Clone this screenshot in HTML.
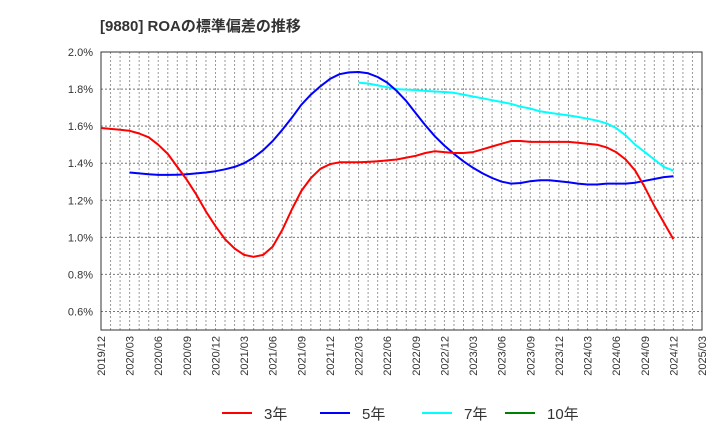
<!DOCTYPE html>
<html><head><meta charset="utf-8"><style>
body{margin:0;background:#fff;font-family:"Liberation Sans","Noto Sans CJK JP",sans-serif}
svg text{font-family:"Liberation Sans","Noto Sans CJK JP",sans-serif}
</style></head><body>
<svg id="chart" width="720" height="440" xmlns="http://www.w3.org/2000/svg">
<text x="100" y="31" font-size="15" font-weight="bold" fill="#333">[9880]  ROAの標準偏差の推移</text>
<g id="grid"></g><g id="axes"></g><g id="series"></g><g id="legend"></g>
</svg>
<script>
const yTicks=[0.6,0.8,1.0,1.2,1.4,1.6,1.8,2.0];
const xLabels=["2019/12","2020/03","2020/06","2020/09","2020/12","2021/03","2021/06","2021/09","2021/12","2022/03","2022/06","2022/09","2022/12","2023/03","2023/06","2023/09","2023/12","2024/03","2024/06","2024/09","2024/12","2025/03"];
const s3Start=0;
const s3=[1.59,1.585,1.58,1.575,1.56,1.54,1.50,1.45,1.38,1.31,1.23,1.14,1.06,0.99,0.94,0.905,0.895,0.905,0.95,1.04,1.15,1.25,1.32,1.37,1.395,1.405,1.405,1.405,1.407,1.41,1.415,1.42,1.43,1.44,1.455,1.465,1.46,1.455,1.455,1.46,1.475,1.49,1.505,1.52,1.52,1.515,1.515,1.515,1.515,1.515,1.51,1.505,1.50,1.485,1.46,1.42,1.36,1.27,1.17,1.08,0.99];
const s5Start=3;
const s5=[1.35,1.345,1.34,1.337,1.337,1.338,1.34,1.345,1.35,1.357,1.367,1.38,1.40,1.43,1.47,1.52,1.58,1.645,1.715,1.77,1.815,1.855,1.88,1.89,1.892,1.885,1.865,1.835,1.79,1.735,1.67,1.605,1.545,1.495,1.45,1.41,1.375,1.345,1.32,1.30,1.29,1.293,1.303,1.308,1.308,1.303,1.297,1.29,1.285,1.285,1.29,1.29,1.29,1.295,1.305,1.315,1.325,1.33];
const s7Start=27;
const s7=[1.835,1.83,1.82,1.81,1.80,1.797,1.795,1.79,1.787,1.784,1.78,1.77,1.76,1.75,1.74,1.73,1.72,1.705,1.695,1.68,1.672,1.665,1.658,1.65,1.64,1.63,1.615,1.59,1.55,1.50,1.46,1.42,1.38,1.36];
const s10Start=0;
const s10=[];
const L=101,R=702,T=52,B=330,yMin=0.5,yMax=2.0,months=63;
const X=m=>L+(R-L)*m/months;
const Y=v=>B-(B-T)*(v-yMin)/(yMax-yMin);
const NS="http://www.w3.org/2000/svg";
function mk(tag,attrs,parent){const e=document.createElementNS(NS,tag);for(const k in attrs)e.setAttribute(k,attrs[k]);document.getElementById(parent).appendChild(e);return e;}
for(let m=1;m<months;m++){
 const g=mk('line',{x1:X(m),x2:X(m),y1:T,y2:B,stroke:'#999','stroke-dasharray':'2,2','stroke-width':1},'grid');
 
 
}
yTicks.forEach(v=>{
 const g=mk('line',{x1:L,x2:R,y1:Y(v),y2:Y(v),stroke:'#777','stroke-dasharray':'2,2','stroke-width':1},'grid');
 
 
 const t=mk('text',{x:L-8,y:Y(v)+4,'font-size':11,'text-anchor':'end',fill:'#333'},'axes');
 t.textContent=v.toFixed(1)+'%';
 
 
});
const fr=mk('rect',{x:L,y:T,width:R-L,height:B-T,fill:'none',stroke:'#333','stroke-width':1},'axes');


xLabels.forEach((lab,i)=>{
 const x=X(i*3);
 const t=mk('text',{x:0,y:0,'font-size':11,'text-anchor':'end',fill:'#333',transform:`translate(${x+4},${B+6}) rotate(-90)`},'axes');
 t.textContent=lab;
 
 
});
function line(arr,start,color,name){
 if(!arr.length)return;
 const d=arr.map((v,i)=>(i?'L':'M')+X(start+i).toFixed(1)+','+Y(v).toFixed(1)).join(' ');
 const p=mk('path',{d:d,fill:'none',stroke:color,'stroke-width':2,'stroke-linejoin':'round'},'series');
 
 
}
line(s7,s7Start,'#00ffff','series-7y');
line(s5,s5Start,'#0000ff','series-5y');
line(s3,s3Start,'#ff0000','series-3y');
line(s10,s10Start,'#008000','series-10y');
const leg=[['3年','#ff0000',222],['5年','#0000ff',320],['7年','#00ffff',422],['10年','#008000',505]];
leg.forEach(([n,c,x])=>{
 const l=mk('line',{x1:x,x2:x+30,y1:413,y2:413,stroke:c,'stroke-width':2},'legend');
 
 
 const t=mk('text',{x:x+42,y:419,'font-size':15,fill:'#333'},'legend');
 t.textContent=n;
 
 
});
</script>
</body></html>
